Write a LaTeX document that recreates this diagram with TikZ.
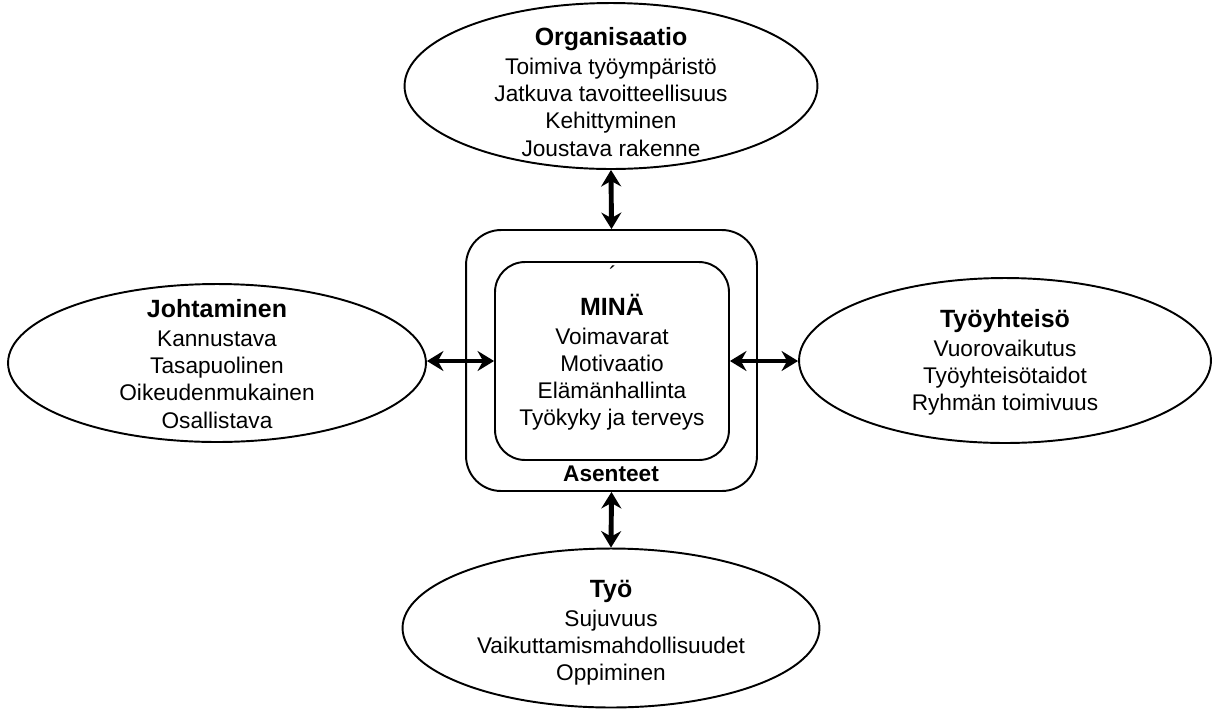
\documentclass[tikz,border=0pt]{standalone}
\usepackage{fontspec}
\setmainfont{Liberation Sans}
\usetikzlibrary{shapes.geometric}
\usetikzlibrary{arrows.meta}
\newcommand{\headfont}{\fontsize{14.2}{17}\selectfont\bfseries}
\newcommand{\bodyfont}{\fontsize{12.9}{15.4}\selectfont}

\begin{document}
\begin{tikzpicture}[x=0.02cm, y=-0.02cm,
    oval/.style={draw, ellipse, line width=1.1pt, inner sep=0pt},
    box/.style={draw, rectangle, line width=1.1pt, inner sep=0pt},
    txt/.style={align=center, font=\bodyfont, inner sep=0pt},
    arr/.style={line width=2.8pt,
      {Stealth[length=0.33cm, width=0.4cm, inset=0.11cm]}-{Stealth[length=0.33cm, width=0.4cm, inset=0.11cm]}}]
  \useasboundingbox (0, 0) rectangle (1214, 711);

  % centre: MINÄ inside the attitude frame
  \node (outer) at (611.5, 360.5) [box, minimum width=5.82cm, minimum height=5.22cm, rounded corners=0.7cm] {};
  \node (inner) at (612, 361) [box, minimum width=4.68cm, minimum height=3.96cm, rounded corners=0.6cm] {};
  \node (tick) at (613, 274) [txt] {´};
  \node (mina) at (612, 362) [txt] {{\headfont MINÄ}\\[0.04cm]
    Voimavarat\\ Motivaatio\\ Elämänhallinta\\ Työkyky ja terveys};
  \node (asenteet) at (611, 474) [txt, font=\bodyfont\bfseries] {Asenteet};

  % surrounding ovals
  \node (org) at (611, 86) [oval, minimum width=8.26cm, minimum height=3.32cm] {};
  \node (orgtxt) at (611, 92) [txt] {{\headfont Organisaatio}\\[0.04cm]
    Toimiva työympäristö\\ Jatkuva tavoitteellisuus\\ Kehittyminen\\ Joustava rakenne};

  \node (joht) at (217, 363) [oval, minimum width=8.36cm, minimum height=3.16cm] {};
  \node (johttxt) at (217, 364) [txt] {{\headfont Johtaminen}\\[0.04cm]
    Kannustava\\ Tasapuolinen\\ Oikeudenmukainen\\ Osallistava};

  \node (yht) at (1005, 360.5) [oval, minimum width=8.24cm, minimum height=3.3cm] {};
  \node (yhttxt) at (1005, 362) [txt] {{\headfont Työyhteisö}\\[0.04cm]
    Vuorovaikutus\\ Työyhteisötaidot\\ Ryhmän toimivuus};

  \node (tyo) at (611, 628) [oval, minimum width=8.34cm, minimum height=3.18cm] {};
  \node (tyotxt) at (611, 633) [txt] {{\headfont Työ}\\[0.04cm]
    Sujuvuus\\ Vaikuttamismahdollisuudet\\ Oppiminen};

  % two-way links
  \draw [arr] (org.south) -- (outer.north);
  \draw [arr] (joht.east |- inner.west) -- (inner.west);
  \draw [arr] (inner.east) -- (yht.west |- inner.east);
  \draw [arr] (outer.south) -- (tyo.north);
\end{tikzpicture}
\end{document}
